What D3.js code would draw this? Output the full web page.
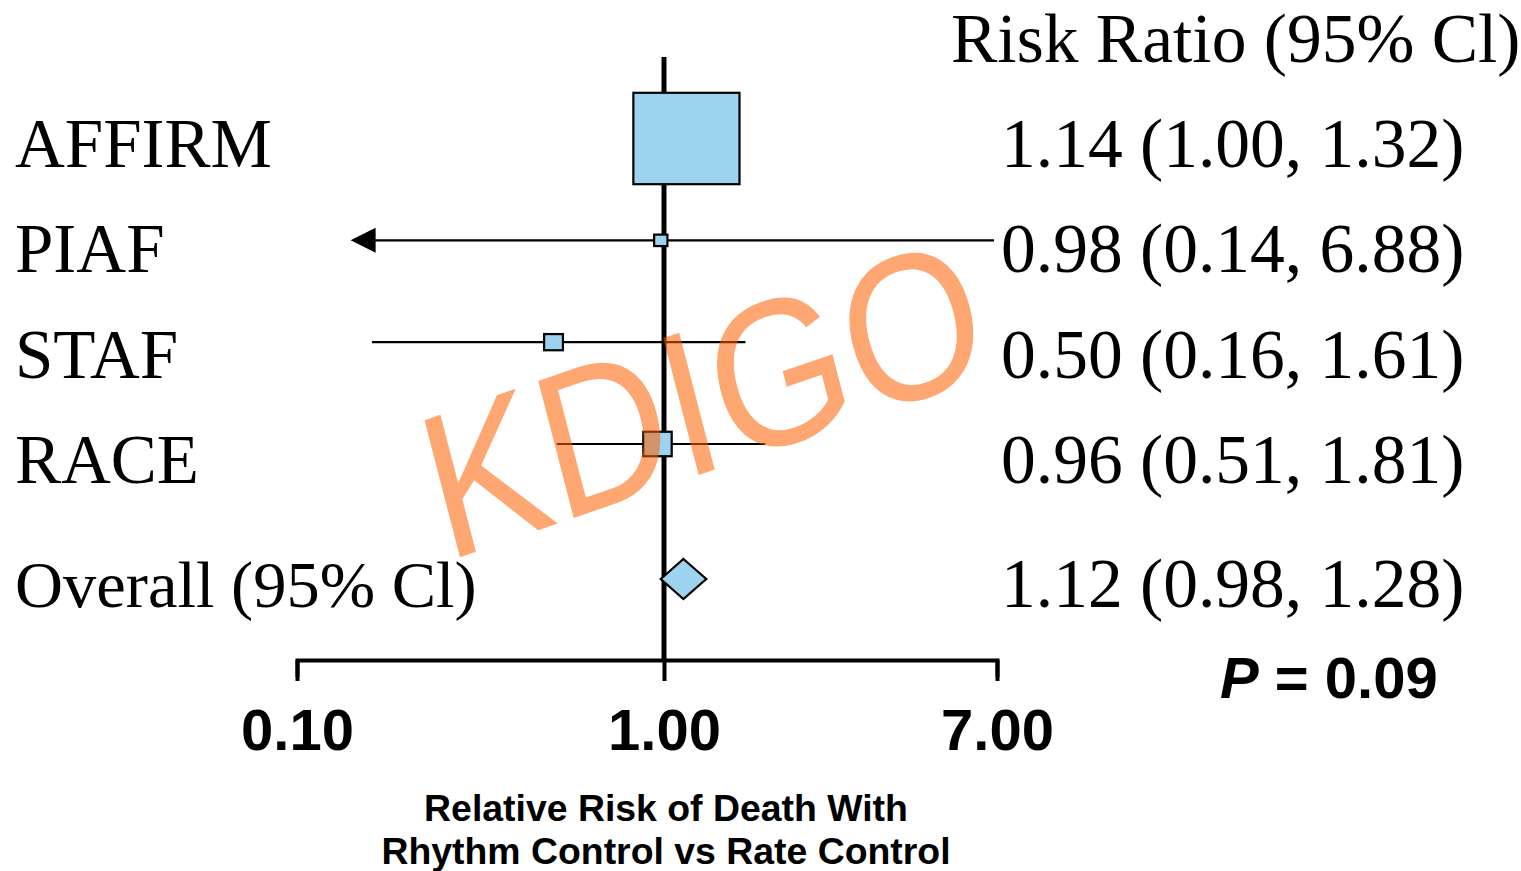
<!DOCTYPE html>
<html>
<head>
<meta charset="utf-8">
<script src="https://cdn.jsdelivr.net/npm/d3@7"></script>
<style>
  html, body { margin: 0; padding: 0; background: #fff; }
  svg { display: block; }
</style>
</head>
<body>
<svg id="chart" width="1521" height="871"></svg>
<script>
// ---- data ----
const studies = ["AFFIRM", "PIAF", "STAF", "RACE"];
const riskRatio = [1.14, 0.98, 0.50, 0.96];
const ciLow = [1.00, 0.14, 0.16, 0.51];
const ciHigh = [1.32, 6.88, 1.61, 1.81];
const weights = [89.3, 1.4, 2.8, 6.4];          // relative study weight (%)
const leftArrow = [false, true, false, false];   // CI drawn with an arrow
const overallLabel = "Overall (95% Cl)";
const overallRR = 1.12, overallLow = 0.98, overallHigh = 1.28;
const tickValues = [0.10, 1.00, 7.00];
const columnTitle = "Risk Ratio (95% Cl)";
const axisTitle = ["Relative Risk of Death With", "Rhythm Control vs Rate Control"];
const pText = "0.09";
const watermark = "KDIGO";

// ---- setup ----
const svg = d3.select("#chart");
const serif = "'Liberation Serif', 'Times New Roman', serif";
const sans = "'Liberation Sans', Arial, sans-serif";
const fmt = d3.format(".2f");
const boxFill = "#9DD3EF";

const x = d3.scaleLog().domain([0.1, 1, 7]).range([297, 664, 997]);
const n = studies.length;
const yBase = d3.scaleLinear().domain([0, n - 1]).range([167, 483]);   // text baselines
const yMark = d3.scaleLinear().domain([0, n - 1]).range([138.5, 444]); // marker centres
const overallBase = yBase(n - 1) + 124;
const overallY = overallBase - 28;
const side = d3.scaleSqrt().domain([0, 100]).range([0, 104]);

const axisY = 660;

// reference line at 1
svg.append("line")
  .attr("x1", x(1)).attr("x2", x(1))
  .attr("y1", 57).attr("y2", axisY)
  .attr("stroke", "#000").attr("stroke-width", 5);

// axis
const axis = d3.axisBottom(x).tickValues(tickValues)
  .tickSizeInner(21).tickSizeOuter(17).tickPadding(28)
  .tickFormat(d => fmt(d));
const gAxis = svg.append("g").attr("transform", `translate(0,${axisY})`).call(axis);
gAxis.select(".domain").attr("stroke", "#000").attr("stroke-width", 4).attr("fill", "none");
gAxis.selectAll(".tick line").attr("stroke", "#000").attr("stroke-width", 4);
gAxis.selectAll(".tick text")
  .attr("font-family", sans).attr("font-weight", "bold").attr("font-size", 58)
  .attr("fill", "#000").attr("dy", "0.71em");

// rows
const rows = studies.map((s, i) => ({
  name: s, rr: riskRatio[i], lo: ciLow[i], hi: ciHigh[i], w: weights[i],
  arrow: leftArrow[i], base: yBase(i), cy: yMark(i)
}));

// CI lines
svg.append("g").selectAll("line").data(rows).join("line")
  .attr("x1", d => x(d.lo) + (d.arrow ? 20 : 0)).attr("x2", d => x(d.hi))
  .attr("y1", d => d.cy).attr("y2", d => d.cy)
  .attr("stroke", "#000").attr("stroke-width", 2.2);

// arrows
svg.append("g").selectAll("path").data(rows.filter(d => d.arrow)).join("path")
  .attr("d", d => {
    const tx = x(d.lo), cy = d.cy;
    return `M${tx},${cy} L${tx + 25},${cy - 12.5} L${tx + 25},${cy + 12.5} Z`;
  })
  .attr("fill", "#000");

// boxes
svg.append("g").selectAll("rect").data(rows).join("rect")
  .attr("x", d => x(d.rr) - side(d.w) * 1.08 / 2)
  .attr("y", d => d.cy - side(d.w) * 0.93 / 2)
  .attr("width", d => side(d.w) * 1.08)
  .attr("height", d => side(d.w) * 0.93)
  .attr("fill", boxFill).attr("stroke", "#000").attr("stroke-width", 2.2);

// overall diamond
svg.append("path")
  .attr("d", `M${x(overallLow)},${overallY} L${x(overallRR)},${overallY - 20} L${x(overallHigh)},${overallY} L${x(overallRR)},${overallY + 20} Z`)
  .attr("fill", boxFill).attr("stroke", "#000").attr("stroke-width", 2.2);

// left labels
svg.append("g").selectAll("text").data(rows).join("text")
  .attr("x", 15).attr("y", d => d.base)
  .attr("font-family", serif).attr("font-size", 69).attr("fill", "#000")
  .text(d => d.name);
svg.append("text").attr("x", 15).attr("y", overallBase)
  .attr("font-family", serif).attr("font-size", 66.5).attr("fill", "#000")
  .text(overallLabel);

// right values
svg.append("text").attr("x", 951).attr("y", 62)
  .attr("font-family", serif).attr("font-size", 69.5).attr("fill", "#000")
  .text(columnTitle);
svg.append("g").selectAll("text").data(rows).join("text")
  .attr("x", 1001).attr("y", d => d.base)
  .attr("font-family", serif).attr("font-size", 69.5).attr("fill", "#000")
  .text(d => `${fmt(d.rr)} (${fmt(d.lo)}, ${fmt(d.hi)})`);
svg.append("text").attr("x", 1001).attr("y", overallBase)
  .attr("font-family", serif).attr("font-size", 69.5).attr("fill", "#000")
  .text(`${fmt(overallRR)} (${fmt(overallLow)}, ${fmt(overallHigh)})`);

// P value
const pt = svg.append("text").attr("x", 1220).attr("y", 698)
  .attr("font-family", sans).attr("font-weight", "bold").attr("font-size", 58).attr("fill", "#000");
pt.append("tspan").attr("font-style", "italic").text("P");
pt.append("tspan").text(" = " + pText);

// axis title
svg.append("g").selectAll("text").data(axisTitle).join("text")
  .attr("x", 666).attr("y", (d, i) => 821 + i * 43)
  .attr("text-anchor", "middle")
  .attr("font-family", sans).attr("font-weight", "bold").attr("font-size", 37.4).attr("fill", "#000")
  .text(d => d);

// watermark
svg.append("text")
  .attr("transform", "translate(446,562) rotate(-19) skewX(-4.5) scale(0.88,1)")
  .attr("font-family", sans).attr("font-size", 205)
  .attr("fill", "#FF5E00").attr("fill-opacity", 0.55)
  .text(watermark);
</script>
</body>
</html>
